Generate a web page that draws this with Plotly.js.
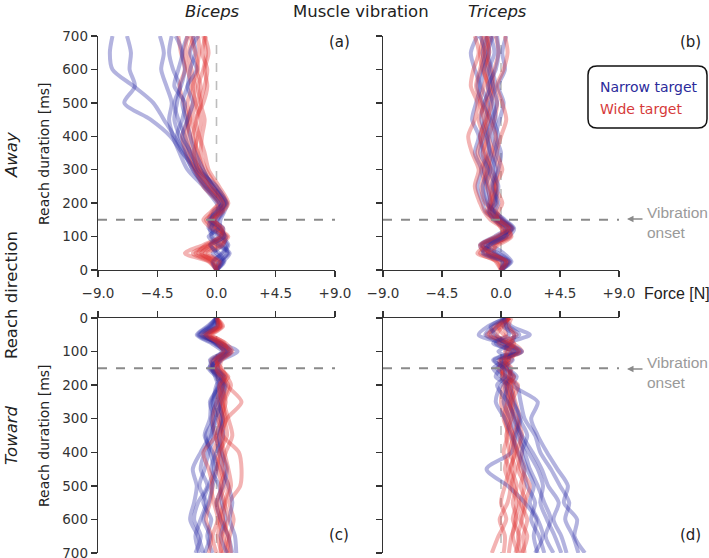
<!DOCTYPE html>
<html>
<head>
<meta charset="utf-8">
<script src="https://cdn.plot.ly/plotly-3.0.1.min.js"></script>
<style>
  html, body { margin: 0; padding: 0; background: #fff; }
  #chart { width: 709px; height: 558px; }
</style>
</head>
<body>
<div id="chart"></div>
<script>
const times = [0, 25, 50, 75, 100, 125, 150, 175, 200, 250, 300, 350, 400, 450, 500, 550, 600, 650, 700];
const forceTicks = [-9, -4.5, 0, 4.5, 9];
const forceTickText = ["\u22129.0", "\u22124.5", "0.0", "+4.5", "+9.0"];
const timeTicks = [0, 100, 200, 300, 400, 500, 600, 700];
const onsetMs = 150;

// (a) Away / Biceps
const awayBicepsNarrow = [
  [0, 0.5, 1.0, 0.3, -0.4, -0.2, 0.1, 0.5, 0.3, -0.8, -1.8, -2.5, -3.2, -4.0, -4.8, -6.3, -7.9, -8.1, -7.9],
  [0, 0.3, 0.8, 0.6, -0.3, -0.5, -0.2, 0.3, 0.6, -0.5, -1.5, -2.6, -3.5, -5.0, -7.0, -6.2, -6.6, -6.5, -6.8],
  [0, -0.2, 0.4, 0.8, 0.2, -0.6, -0.4, 0.2, 0.0, -1.0, -2.2, -2.8, -3.3, -3.6, -3.4, -3.8, -4.2, -4.0, -4.3],
  [0, 0.4, -0.3, 0.5, 0.7, 0.0, -0.6, 0.0, 0.4, -0.6, -1.6, -2.2, -2.8, -3.2, -3.0, -2.8, -3.3, -3.6, -3.4],
  [0, 0.6, 0.2, -0.5, 0.3, 0.5, -0.3, -0.2, 0.5, -0.2, -1.2, -2.0, -2.4, -2.9, -3.2, -2.7, -2.4, -2.6, -2.2],
  [0, 0.2, 0.9, 0.1, -0.6, 0.2, 0.3, 0.6, 0.8, -0.3, -1.0, -1.6, -2.0, -2.3, -2.6, -2.2, -2.0, -1.6, -1.8],
  [0, -0.3, 0.5, 0.9, 0.4, -0.4, 0.0, 0.4, 0.2, -0.9, -1.8, -2.4, -3.0, -2.6, -2.4, -3.2, -2.9, -2.6, -3.1],
  [0, 0.5, 0.0, -0.4, 0.6, 0.3, -0.5, 0.1, 0.7, 0.0, -1.4, -1.9, -2.6, -2.2, -1.8, -2.2, -1.5, -2.0, -1.4]
];
const awayBicepsWide = [
  [0, -0.5, -1.8, -0.6, 0.6, 0.2, -0.5, 0.2, 0.6, -0.3, -1.0, -1.4, -1.8, -1.5, -1.2, -1.4, -1.0, -0.8, -1.0],
  [0, -0.3, -1.2, 0.0, 0.8, -0.2, -0.8, 0.0, 0.4, -0.6, -1.4, -1.8, -2.0, -2.2, -1.8, -1.6, -1.9, -2.1, -1.7],
  [0, 0.2, -1.4, -0.8, 0.4, 0.5, -0.2, 0.4, 0.8, 0.0, -0.8, -1.2, -1.1, -0.9, -1.2, -0.9, -0.7, -1.1, -0.8],
  [0, -0.6, -2.4, -1.0, 0.2, 0.0, -0.6, -0.3, 0.2, -0.8, -1.7, -2.3, -2.6, -2.2, -2.5, -2.8, -2.4, -2.7, -2.9],
  [0, 0.1, -0.9, 0.3, 0.9, 0.1, -0.4, 0.3, 0.7, -0.2, -1.2, -1.5, -1.6, -1.9, -1.5, -1.2, -1.5, -1.3, -1.4],
  [0, -0.4, -1.6, -0.3, 0.5, -0.4, -1.0, -0.4, 0.1, -1.0, -1.6, -2.0, -2.3, -2.0, -2.2, -1.9, -2.2, -2.4, -2.2],
  [0, 0.3, -0.7, 0.5, 0.6, 0.3, -0.1, 0.5, 0.9, 0.2, -0.6, -0.9, -1.3, -1.6, -1.0, -0.7, -0.9, -0.6, -0.9],
  [0, -0.2, -1.1, -0.5, 0.3, 0.4, -0.3, 0.1, 0.5, -0.5, -1.3, -1.7, -1.4, -1.2, -1.6, -1.8, -1.4, -1.6, -2.0]
];

// (b) Away / Triceps
const awayTricepsNarrow = [
  [0, 0.4, -0.8, -1.4, -0.2, 0.6, 0.0, -0.8, -1.0, -1.2, -0.8, -1.3, -1.6, -1.2, -1.0, -1.5, -1.3, -0.9, -1.2],
  [0, 0.6, -0.4, -1.0, 0.3, 0.8, -0.2, -1.0, -0.6, -0.4, -0.9, -0.5, -0.2, -0.6, -0.8, -0.4, -0.7, -1.0, -0.6],
  [0, 0.2, -1.2, -1.6, -0.5, 0.4, -0.4, -1.2, -1.4, -1.8, -1.5, -2.0, -1.7, -2.2, -1.9, -1.6, -2.0, -2.3, -1.8],
  [0, 0.8, 0.2, -0.6, 0.6, 1.0, 0.3, -0.4, -0.2, -0.6, -0.2, 0.0, -0.4, -0.1, 0.2, -0.2, 0.3, 0.1, 0.4],
  [0, 0.5, -0.6, -1.2, 0.0, 0.7, 0.1, -0.6, -0.8, -1.0, -1.3, -0.9, -1.1, -1.5, -1.3, -0.8, -1.1, -1.4, -1.0],
  [0, 0.3, -1.0, -0.8, 0.4, 0.2, -0.5, -0.9, -0.4, -0.7, -0.4, -0.8, -1.0, -0.7, -0.3, -0.6, -0.9, -0.5, -0.8],
  [0, 0.7, -0.2, -1.5, -0.3, 0.9, 0.2, -0.5, -1.1, -1.4, -1.0, -1.6, -1.3, -0.9, -1.4, -1.8, -1.5, -1.2, -1.6],
  [0, 0.1, -1.4, -0.9, 0.2, 0.5, -0.3, -0.7, -0.5, -0.2, -0.6, -0.3, -0.7, -0.4, -0.6, -1.0, -0.4, -0.2, -0.3]
];
const awayTricepsWide = [
  [0, -0.3, -1.6, -0.8, 0.5, 0.3, -0.6, -0.9, -0.7, -1.1, -1.5, -1.0, -1.3, -1.7, -1.2, -1.0, -1.4, -1.6, -1.3],
  [0, 0.5, -0.9, -1.3, 0.2, 0.9, 0.0, -0.5, -0.3, -0.5, -0.2, -0.6, -0.9, -0.5, -0.3, -0.7, -0.5, -0.2, -0.4],
  [0, -0.1, -1.8, -1.1, 0.0, 0.1, -0.8, -1.3, -1.6, -2.0, -1.7, -2.2, -2.5, -2.0, -1.8, -2.3, -2.1, -1.7, -2.0],
  [0, 0.3, -0.5, -0.4, 0.7, 0.6, -0.1, -0.6, -0.9, -0.6, -1.0, -0.7, -0.4, -0.8, -1.1, -0.6, -0.8, -1.1, -0.7],
  [0, 0.6, -1.1, -1.6, -0.1, 0.8, 0.1, -0.4, -1.2, -1.5, -1.1, -1.4, -1.0, -1.3, -1.6, -1.3, -1.0, -1.3, -1.5],
  [0, 0.2, -1.3, -0.7, 0.4, 0.0, -0.4, -1.1, -0.8, -0.3, -0.7, -1.2, -1.6, -1.1, -0.7, -0.9, -1.3, -0.9, -1.1],
  [0, -0.4, -1.0, -0.2, 0.8, 0.4, -0.3, -0.2, 0.1, -0.4, 0.1, -0.3, 0.0, 0.4, 0.1, -0.3, 0.2, 0.5, 0.3],
  [0, 0.4, -0.7, -1.5, -0.4, 0.6, -0.2, -0.8, -0.6, -0.9, -1.3, -1.8, -1.4, -1.0, -1.5, -1.9, -1.6, -1.3, -1.0]
];

// (c) Toward / Biceps
const towardBicepsNarrow = [
  [0, -0.5, -1.2, 0.3, 1.6, 0.4, -0.2, 0.5, 0.3, -0.3, 0.0, -0.5, -1.2, -1.8, -1.5, -1.7, -2.0, -1.4, -1.0],
  [0, -0.2, -0.9, 0.1, 0.8, -0.3, -0.5, 0.2, 0.5, 0.0, -0.4, -0.2, -0.6, -0.9, -1.3, -0.8, -1.2, -1.6, -1.3],
  [0, -0.6, -1.4, -0.2, 0.6, 0.0, -0.3, 0.3, 0.7, 0.3, 0.4, 0.0, 0.2, 0.5, 0.9, 1.2, 1.0, 1.4, 1.5],
  [0, 0.1, -0.7, 0.4, 1.1, 0.2, -0.6, 0.0, 0.2, -0.5, -0.2, -0.8, -0.5, -0.2, -0.6, -1.0, -0.4, -0.7, -0.3],
  [0, -0.3, -1.0, 0.0, 0.5, -0.5, -0.1, 0.4, 0.0, -0.2, 0.3, 0.5, 0.0, -0.4, 0.2, 0.4, 0.7, 0.3, 0.8],
  [0, -0.4, -1.3, 0.2, 0.9, 0.1, -0.4, 0.1, 0.6, 0.4, -0.1, -0.4, -0.9, -1.2, -0.7, -1.4, -1.7, -1.2, -1.6],
  [0, 0.0, -0.8, -0.1, 0.7, 0.3, 0.1, 0.6, 0.4, 0.1, 0.5, 0.2, 0.4, 0.8, 0.5, 0.0, 0.3, 0.9, 1.2],
  [0, -0.7, -1.5, -0.4, 0.4, -0.2, -0.3, -0.1, 0.1, -0.4, -0.5, -0.9, -0.3, 0.0, -0.3, -0.6, -1.0, -0.5, -0.9]
];
const towardBicepsWide = [
  [0, 0.3, -0.6, 0.5, 1.0, 0.2, 0.0, 0.6, 0.8, 1.9, 0.8, 0.5, 1.7, 1.9, 1.8, 1.0, 1.3, 1.0, 0.8],
  [0, 0.1, -0.9, 0.2, 0.8, -0.2, -0.4, 0.3, 0.5, 0.2, 0.5, 0.2, -0.2, 0.3, 0.6, 0.2, 0.5, 0.8, 0.5],
  [0, 0.4, -0.4, 0.7, 1.2, 0.4, 0.3, 0.8, 1.1, 0.6, 0.9, 1.2, 0.7, 0.4, 0.9, 0.6, 0.2, 0.5, 0.9],
  [0, 0.0, -1.1, 0.0, 0.6, -0.4, -0.2, 0.1, 0.3, 0.0, -0.3, -0.1, 0.3, 0.0, -0.4, -0.2, 0.1, -0.3, 0.0],
  [0, 0.2, -0.7, 0.4, 0.9, 0.1, 0.1, 0.5, 0.6, 0.3, 0.1, 0.5, 0.4, 0.7, 0.3, 0.6, 0.9, 0.4, 0.3],
  [0, 0.5, -0.3, 0.6, 0.7, 0.0, 0.2, 0.9, 0.4, 0.7, 0.3, 0.0, -1.0, -0.6, -0.3, -0.5, -0.8, -0.4, -0.6],
  [0, 0.1, -0.8, 0.3, 1.1, 0.3, -0.1, 0.4, 0.9, 0.5, 0.6, 0.8, 0.2, 0.1, 0.4, 0.0, 0.3, 0.1, 0.4],
  [0, 0.3, -0.5, 0.1, 0.5, -0.1, 0.4, 0.7, 0.2, 0.4, 0.7, 0.3, 0.6, 0.9, 1.1, 0.7, 0.5, 0.9, 1.1]
];

// (d) Toward / Triceps
const towardTricepsNarrow = [
  [0.4, -1.0, -1.7, 0.2, 1.5, 0.0, 0.5, 1.2, 0.9, 2.8, 2.3, 2.8, 3.5, 4.3, 5.1, 4.8, 5.8, 5.6, 6.4],
  [0.3, 0.8, 2.2, 0.6, 0.4, 0.6, -0.3, 0.4, 1.2, 1.5, 1.8, 2.6, 3.0, 3.8, 4.5, 5.2, 4.9, 5.5, 5.9],
  [0.5, -0.6, -1.2, 0.0, 1.2, -0.5, 0.2, 0.8, 0.3, 0.6, 1.0, 1.6, 2.4, 3.1, 3.6, 4.4, 4.0, 4.6, 5.0],
  [0.2, 0.6, 1.4, -0.4, 0.8, 0.4, -0.6, 0.0, 0.5, 0.2, 0.7, 1.2, 1.8, 2.2, 2.8, 3.3, 3.8, 3.4, 4.0],
  [0.4, -0.3, -0.8, 0.5, 1.6, -0.2, 0.4, 1.0, 0.4, 0.9, 1.5, 1.1, 0.8, -1.1, 0.5, 1.8, 2.7, 2.5, 2.8],
  [0.3, 0.2, 1.0, 0.8, -0.2, 0.9, 0.0, -0.4, 0.6, 1.0, 1.4, 2.0, 1.6, 2.0, 2.5, 2.2, 2.8, 3.2, 2.6],
  [0.5, -0.8, -0.4, 0.3, 1.3, 0.2, 0.7, 0.6, 0.0, -0.4, 0.3, 0.8, 1.3, 1.7, 2.0, 2.6, 2.3, 2.9, 3.3],
  [0.2, 0.4, 0.6, -0.6, 1.0, -0.6, 0.2, 0.3, -0.3, 0.5, 1.1, 1.5, 2.1, 2.8, 3.2, 3.0, 3.5, 4.1, 4.6]
];
const towardTricepsWide = [
  [0.6, 0.0, -1.1, 0.6, 1.3, 0.0, 0.3, 0.9, 0.5, 0.3, 0.6, 0.9, 0.7, 1.1, 0.8, 1.2, 0.9, 1.4, 1.1],
  [0.5, 0.4, 1.2, 0.2, 0.7, 0.5, -0.2, 0.5, 1.0, 0.7, 1.0, 1.4, 1.6, 1.3, 1.8, 1.5, 2.0, 1.7, 1.8],
  [0.7, -0.3, -0.6, 0.9, 1.6, 0.2, 0.6, 0.7, 0.2, 0.0, 0.3, 0.5, 0.2, 0.6, 0.3, 0.0, 0.4, -0.2, -0.7],
  [0.6, 0.2, 0.4, -0.2, 0.9, 0.8, 0.1, 0.2, 0.7, 1.1, 1.4, 1.0, 1.3, 1.8, 1.5, 1.9, 1.6, 1.3, 1.5],
  [0.5, -0.5, -0.9, 0.4, 1.1, -0.1, 0.0, 0.4, 0.8, 0.5, 0.2, 0.7, 1.0, 0.8, 1.2, 0.9, 1.2, 0.8, 0.6],
  [0.8, 0.6, 1.0, 0.7, 0.3, 0.6, 0.4, 1.0, 0.6, 0.9, 0.8, 0.4, 0.6, 0.3, 0.7, 0.5, -0.1, 0.3, 0.2],
  [0.6, 0.1, -0.3, 0.5, 1.4, 0.4, 0.2, 0.1, 0.4, 0.6, 1.2, 1.6, 1.2, 1.5, 2.2, 1.8, 1.5, 2.0, 1.6],
  [0.7, -0.2, 0.2, 1.0, 0.5, 0.3, 0.8, 0.6, 1.3, 0.8, 0.5, 0.9, 1.1, 0.7, 1.0, 1.4, 1.1, 0.9, 1.3]
];

/* ---------- styling ---------- */
const W = 709, H = 558;
const BLUE = "rgba(45,45,165,0.36)";
const RED = "rgba(222,45,45,0.36)";
const AXIS = "#333";
const FONT = "DejaVu Sans, Liberation Sans, sans-serif";
const SANS = "Liberation Sans, Arial, sans-serif";
const px = (x) => x / W;          // pixel -> paper
const py = (y) => 1 - y / H;

function trials(rows, color, xa, ya) {
  return rows.map((r) => ({
    x: r, y: times, xaxis: xa, yaxis: ya,
    type: "scatter", mode: "lines",
    line: { color: color, width: 4, shape: "spline", smoothing: 0.8 },
    hoverinfo: "skip", showlegend: false,
  }));
}
function mixed(narrow, wide, xa, ya) {
  const a = trials(narrow, BLUE, xa, ya), b = trials(wide, RED, xa, ya);
  const out = [];
  for (let i = 0; i < Math.max(a.length, b.length); i++) {
    if (a[i]) out.push(a[i]);
    if (b[i]) out.push(b[i]);
  }
  return out;
}

const data = [
  ...mixed(awayBicepsNarrow, awayBicepsWide, "x", "y"),
  ...mixed(awayTricepsNarrow, awayTricepsWide, "x2", "y2"),
  ...mixed(towardBicepsNarrow, towardBicepsWide, "x3", "y3"),
  ...mixed(towardTricepsNarrow, towardTricepsWide, "x4", "y4"),
];

const colL = [px(98), px(335)], colR = [px(383), px(619)];
const rowT = [py(270), py(36)], rowB = [py(553), py(318)];

function xAx(domain, anchor, side, labels) {
  return {
    domain, anchor, side, range: [-9, 9], fixedrange: true,
    tickvals: forceTicks, ticktext: forceTickText, showticklabels: labels,
    ticks: "outside", ticklen: 6, tickwidth: 1.3, tickcolor: AXIS,
    ticklabelstandoff: 4,
    showline: true, linecolor: AXIS, linewidth: 1.3,
    showgrid: false, zeroline: false,
    tickfont: { family: FONT, size: 13.5, color: AXIS },
  };
}
function yAx(domain, anchor, range, labels) {
  return {
    domain, anchor, range, fixedrange: true,
    tickvals: timeTicks, showticklabels: labels, ticklabeloverflow: "allow",
    ticks: "outside", ticklen: 6, tickwidth: 1.3, tickcolor: AXIS,
    showline: true, linecolor: AXIS, linewidth: 1.3,
    showgrid: false, zeroline: false,
    tickfont: { family: FONT, size: 13.5, color: AXIS },
  };
}

const shapes = [];
[["x", "y"], ["x2", "y2"], ["x3", "y3"], ["x4", "y4"]].forEach(([xa, ya]) => {
  shapes.push({ type: "line", xref: xa, yref: ya, x0: 0, x1: 0, y0: 0, y1: 700,
    line: { color: "#bdbdbd", width: 1.6, dash: "dash" }, layer: "below" });
  shapes.push({ type: "line", xref: xa, yref: ya, x0: -9, x1: 9, y0: onsetMs, y1: onsetMs,
    line: { color: "#8a8a8a", width: 2, dash: "dash" } });
});
// rounded legend frame
(function () {
  const x0 = 588, x1 = 707, y0 = 66, y1 = 128, r = 9;
  const P = (x, y) => px(x) + "," + py(y);
  shapes.push({
    type: "path", xref: "paper", yref: "paper",
    path: "M" + P(x0 + r, y0) + " L" + P(x1 - r, y0) + " Q" + P(x1, y0) + " " + P(x1, y0 + r) +
      " L" + P(x1, y1 - r) + " Q" + P(x1, y1) + " " + P(x1 - r, y1) +
      " L" + P(x0 + r, y1) + " Q" + P(x0, y1) + " " + P(x0, y1 - r) +
      " L" + P(x0, y0 + r) + " Q" + P(x0, y0) + " " + P(x0 + r, y0) + " Z",
    line: { color: "#111", width: 1.5 }, fillcolor: "rgba(255,255,255,0)",
  });
})();

function txt(text, x, y, opts) {
  return Object.assign({
    text, xref: "paper", yref: "paper", x: px(x), y: py(y),
    showarrow: false, xanchor: "center", yanchor: "middle",
    font: { family: FONT, size: 16.5, color: "#222" },
  }, opts || {});
}
const gray = { family: SANS, size: 15.5, color: "#9a9a9a" };

const annotations = [
  txt("<i>Biceps</i>", 213, 11),
  txt("Muscle vibration", 361, 11),
  txt("<i>Triceps</i>", 497, 11),
  txt("<i>Away</i>", 11, 155, { textangle: -90 }),
  txt("Reach direction", 11, 295, { textangle: -90 }),
  txt("<i>Toward</i>", 11, 435, { textangle: -90 }),
  txt("Reach duration [ms]", 44, 154, { textangle: -90, font: { family: FONT, size: 14, color: "#222" } }),
  txt("Reach duration [ms]", 44, 436, { textangle: -90, font: { family: FONT, size: 14, color: "#222" } }),
  txt("Force [N]", 642, 293, { xanchor: "left", font: { family: SANS, size: 16, color: "#222" } }),
  txt("(a)", 339, 42, { font: { family: FONT, size: 15, color: "#222" } }),
  txt("(b)", 690, 42, { font: { family: FONT, size: 15, color: "#222" } }),
  txt("(c)", 339, 535, { font: { family: FONT, size: 15, color: "#222" } }),
  txt("(d)", 690, 535, { font: { family: FONT, size: 15, color: "#222" } }),
  txt("Narrow target", 598, 87, { xanchor: "left", font: { family: FONT, size: 14, color: "#2b2b9b" } }),
  txt("Wide target", 598, 109, { xanchor: "left", font: { family: FONT, size: 14, color: "#d63a3a" } }),
  // vibration onset markers
  txt("Vibration<br>onset", 645, 222, { xanchor: "left", align: "left", font: gray }),
  txt("Vibration<br>onset", 645, 372, { xanchor: "left", align: "left", font: gray }),
  { text: "", xref: "paper", yref: "paper", x: px(627), y: py(219), ax: 17, ay: 0,
    showarrow: true, arrowhead: 2, arrowsize: 1, arrowwidth: 1.3, arrowcolor: "#8a8a8a" },
  { text: "", xref: "paper", yref: "paper", x: px(627), y: py(369), ax: 17, ay: 0,
    showarrow: true, arrowhead: 2, arrowsize: 1, arrowwidth: 1.3, arrowcolor: "#8a8a8a" },
];

const layout = {
  width: W, height: H,
  margin: { l: 0, r: 0, t: 0, b: 0 },
  paper_bgcolor: "#fff", plot_bgcolor: "rgba(0,0,0,0)",
  showlegend: false,
  font: { family: FONT, color: AXIS },
  xaxis: xAx(colL, "y", "bottom", true),
  xaxis2: xAx(colR, "y2", "bottom", true),
  xaxis3: xAx(colL, "y3", "top", false),
  xaxis4: xAx(colR, "y4", "top", false),
  yaxis: yAx(rowT, "x", [0, 700], true),
  yaxis2: yAx(rowT, "x2", [0, 700], false),
  yaxis3: yAx(rowB, "x3", [700, 0], true),
  yaxis4: yAx(rowB, "x4", [700, 0], false),
  shapes, annotations,
};

Plotly.newPlot("chart", data, layout, { displayModeBar: false, staticPlot: true });
</script>
</body>
</html>
